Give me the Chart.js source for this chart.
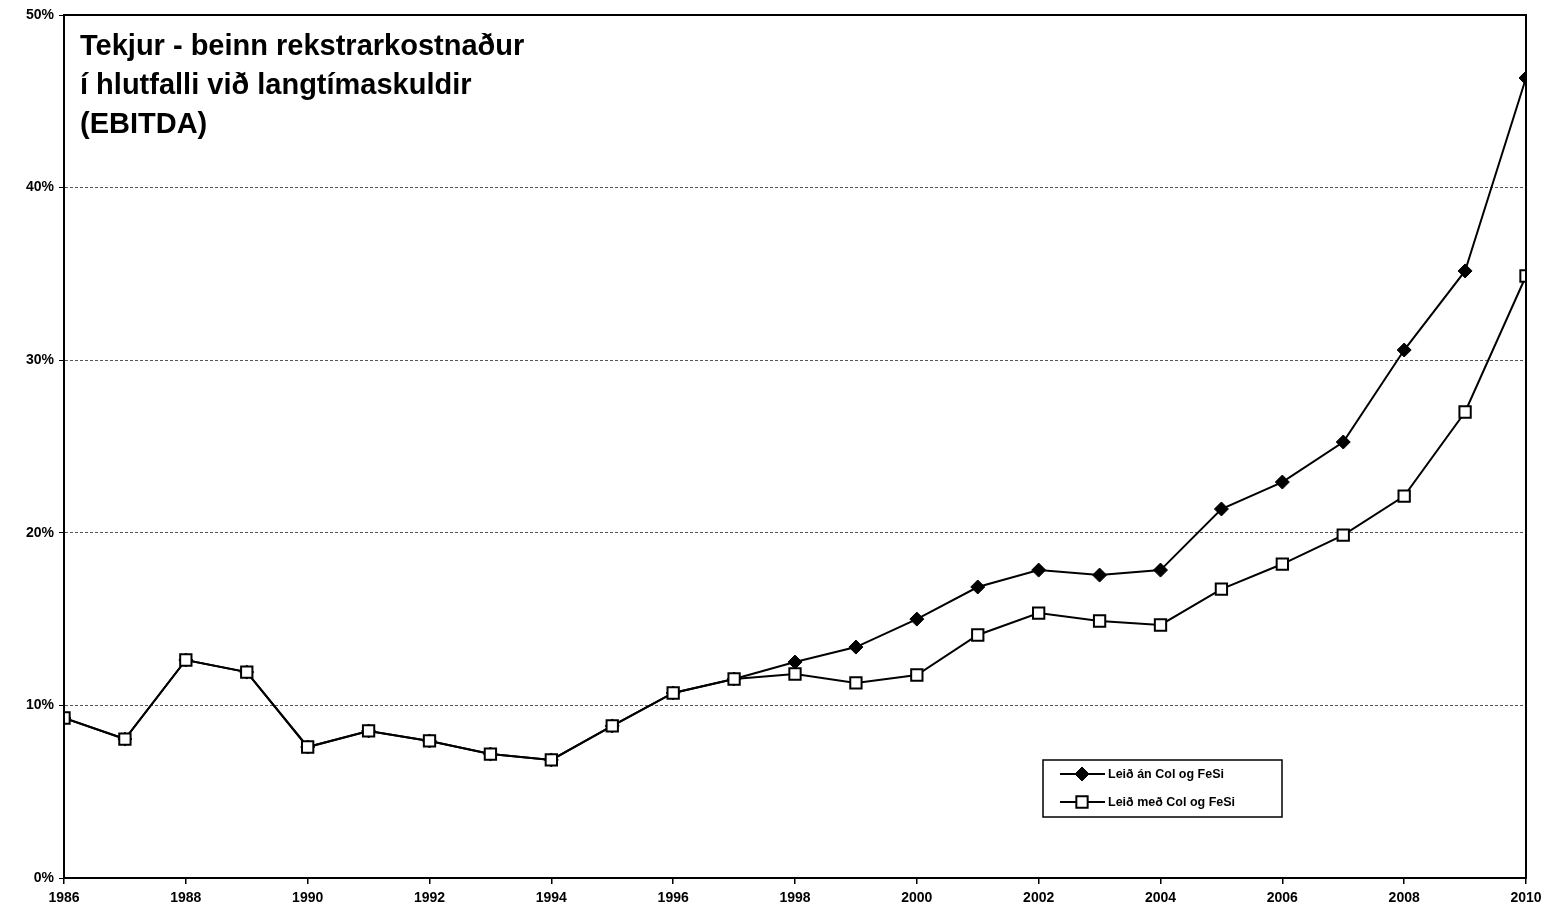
<!DOCTYPE html>
<html>
<head>
<meta charset="utf-8">
<script src="https://cdn.jsdelivr.net/npm/chart.js@4/dist/chart.umd.min.js"></script>
<style>
  html, body { margin: 0; padding: 0; background: #fff; }
  #wrap { width: 1566px; height: 921px; }
</style>
</head>
<body>
<div id="wrap"><canvas id="chart" width="1566" height="921"></canvas></div>
<script>
// Chart data
const years = [1986, 1987, 1988, 1989, 1990, 1991, 1992, 1993, 1994, 1995, 1996, 1997,
               1998, 1999, 2000, 2001, 2002, 2003, 2004, 2005, 2006, 2007, 2008, 2009, 2010];
const anColFeSi = [9.27, 8.05, 12.63, 11.93, 7.59, 8.52, 7.94, 7.18, 6.84, 8.81, 10.72, 11.53,
                   12.51, 13.38, 15.0, 16.86, 17.84, 17.55, 17.84, 21.38, 22.94, 25.26, 30.59, 35.17, 46.35];
const medColFeSi = [9.27, 8.05, 12.63, 11.93, 7.59, 8.52, 7.94, 7.18, 6.84, 8.81, 10.72, 11.53,
                    11.82, 11.30, 11.76, 14.08, 15.35, 14.89, 14.66, 16.74, 18.19, 19.87, 22.13, 27.0, 34.88];
const seriesLabels = ['Leið án Col og FeSi', 'Leið með Col og FeSi'];
const titleLines = ['Tekjur - beinn rekstrarkostnaður', 'í hlutfalli við langtímaskuldir', '(EBITDA)'];

const toPoints = vals => vals.map((v, i) => ({ x: years[i], y: v }));
const tickFont = { family: 'Liberation Sans, Arial, sans-serif', size: 14, weight: 'bold' };

// frame, title and legend drawn inside the plot area
const framePlugin = {
    id: 'frame',
    afterDraw(chart) {
        const { ctx, chartArea: a } = chart;
        ctx.save();
        ctx.strokeStyle = '#000';
        ctx.lineWidth = 2;
        ctx.strokeRect(a.left, a.top, a.right - a.left, a.bottom - a.top);

        ctx.fillStyle = '#000';
        ctx.font = 'bold 29px "Liberation Sans", Arial, sans-serif';
        ctx.textBaseline = 'alphabetic';
        titleLines.forEach((t, i) => ctx.fillText(t, a.left + 16, a.top + 40 + i * 39));

        // legend box
        const bx = 1043, by = 760, bw = 239, bh = 57;
        ctx.fillStyle = '#fff';
        ctx.fillRect(bx, by, bw, bh);
        ctx.lineWidth = 1.5;
        ctx.strokeRect(bx, by, bw, bh);
        chart.data.datasets.forEach((ds, i) => {
            const y = by + 14 + i * 28;
            ctx.strokeStyle = '#000';
            ctx.lineWidth = 2;
            ctx.beginPath();
            ctx.moveTo(bx + 17, y);
            ctx.lineTo(bx + 62, y);
            ctx.stroke();
            ctx.fillStyle = ds.pointBackgroundColor;
            ctx.strokeStyle = ds.pointBorderColor;
            ctx.lineWidth = ds.pointBorderWidth;
            Chart.helpers.drawPoint(ctx, {
                pointStyle: ds.pointStyle,
                radius: ds.pointRadius,
                borderWidth: ds.pointBorderWidth
            }, bx + 39, y);
            ctx.fillStyle = '#000';
            ctx.font = 'bold 12.5px "Liberation Sans", Arial, sans-serif';
            ctx.textBaseline = 'middle';
            ctx.fillText(ds.label, bx + 65, y + 1);
        });
        ctx.restore();
    }
};

new Chart(document.getElementById('chart').getContext('2d'), {
    type: 'line',
    data: {
        datasets: [
            {
                label: seriesLabels[0],
                data: toPoints(anColFeSi),
                borderColor: '#000',
                borderWidth: 2,
                pointStyle: 'rectRot',
                pointRadius: 7,
                pointBorderWidth: 1,
                pointBackgroundColor: '#000',
                pointBorderColor: '#000',
                order: 2
            },
            {
                label: seriesLabels[1],
                data: toPoints(medColFeSi),
                borderColor: '#000',
                borderWidth: 2,
                pointStyle: 'rect',
                pointRadius: 8,
                pointBorderWidth: 2,
                pointBackgroundColor: '#fff',
                pointBorderColor: '#000',
                order: 1
            }
        ]
    },
    options: {
        responsive: false,
        animation: false,
        layout: { padding: { left: 0, right: 40, top: 15, bottom: 0 } },
        plugins: {
            legend: { display: false },
            tooltip: { enabled: false }
        },
        scales: {
            x: {
                type: 'linear',
                min: 1986,
                max: 2010,
                afterFit: s => { s.height = 43; },
                ticks: {
                    stepSize: 2,
                    color: '#000',
                    font: tickFont,
                    padding: 6,
                    callback: v => String(v)
                },
                grid: { drawOnChartArea: false, drawTicks: true, tickLength: 6, tickColor: '#000', lineWidth: 1.5 },
                border: { display: true, color: '#000', width: 2 }
            },
            y: {
                min: 0,
                max: 50,
                afterFit: s => { s.width = 64; },
                ticks: {
                    stepSize: 10,
                    color: '#000',
                    font: tickFont,
                    padding: 5,
                    callback: v => v + '%'
                },
                grid: {
                    color: ctx => (ctx.tick && (ctx.tick.value === 0 || ctx.tick.value === 50)) ? 'rgba(0,0,0,0)' : '#555',
                    lineWidth: 1,
                    drawTicks: true,
                    tickLength: 5,
                    tickColor: '#000'
                },
                border: { display: true, color: '#000', width: 2, dash: [3, 2] }
            }
        }
    },
    plugins: [framePlugin]
});
</script>
</body>
</html>
